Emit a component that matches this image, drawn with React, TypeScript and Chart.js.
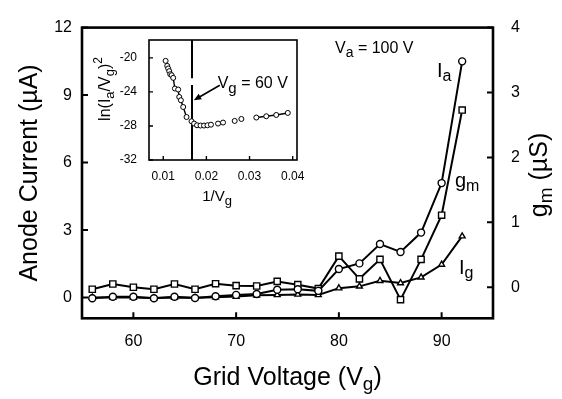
import { useEffect, useRef } from "react";
import { Chart, registerables } from "chart.js";

Chart.register(...registerables);

const FONT = "'Liberation Sans', Arial, Helvetica, sans-serif";

// Main plot data
const GRID_VOLTAGE = [56, 58, 60, 62, 64, 66, 68, 70, 72, 74, 76, 78, 80, 82, 84, 86, 88, 90, 92];
const ANODE_CURRENT = [-0.03, 0.04, 0.04, -0.03, 0.04, -0.02, 0.06, 0.12, 0.16, 0.35, 0.37, 0.3, 1.27, 1.52, 2.38, 2.03, 2.89, 5.09, 10.5];
const TRANSCONDUCTANCE = [-0.03, 0.05, 0.0, -0.03, 0.05, -0.03, 0.055, 0.025, 0.02, 0.09, 0.04, -0.02, 0.48, 0.13, 0.43, -0.19, 0.43, 1.11, 2.73];
const GRID_CURRENT = [0, 0, 0, -0.02, 0, -0.01, 0.02, 0.05, 0.1, 0.12, 0.14, 0.12, 0.42, 0.5, 0.75, 0.65, 0.9, 1.47, 2.73];
const X_TICKS = [60, 70, 80, 90];
const LEFT_TICKS = [0, 3, 6, 9, 12];
const RIGHT_TICKS = [0, 1, 2, 3, 4];

// Inset data
const INV_VG = [0.01055, 0.01092, 0.01115, 0.01139, 0.01162, 0.01194, 0.01231, 0.0127, 0.01346, 0.0137, 0.01409, 0.01462, 0.0154, 0.01656, 0.01716, 0.01783, 0.01864, 0.01945, 0.02025, 0.02106, 0.0227, 0.02386, 0.02656, 0.02811, 0.03157, 0.03388, 0.03619, 0.03887];
const LN_IA_VG2 = [-20.35, -20.94, -21.25, -21.56, -21.92, -22.04, -22.35, -23.6, -23.72, -24.59, -24.98, -25.77, -26.95, -27.45, -27.72, -27.92, -27.95, -27.95, -27.92, -27.85, -27.72, -27.6, -27.41, -27.18, -27.01, -26.86, -26.71, -26.47];
const CONNECTED_SEGMENTS = [0, 1, 2, 3, 4, 5, 6, 7, 8, 9, 10, 11, 24, 25, 26];
const INSET_X_TICKS = [0.01, 0.02, 0.03, 0.04];
const INSET_Y_TICKS = [-32, -28, -24, -20];
const VG_MARK = 60;
const ARROW_FROM = { x: 0.0231, y: -23.21 };
const ARROW_TO = { x: 0.01709, y: -24.98 };
const MARK_GAP = [-22.4, -23.2];

type Part = { t: string; size: number; dy?: number };

function drawRich(ctx: CanvasRenderingContext2D, parts: Part[], x: number, y: number, rotate = 0, align: "left" | "center" = "left") {
  ctx.save();
  ctx.translate(x, y);
  if (rotate) ctx.rotate(rotate);
  let total = 0;
  for (const p of parts) {
    ctx.font = `${p.size}px ${FONT}`;
    total += ctx.measureText(p.t).width;
  }
  let cx = align === "center" ? -total / 2 : 0;
  ctx.textBaseline = "alphabetic";
  ctx.textAlign = "left";
  ctx.fillStyle = "#000";
  for (const p of parts) {
    ctx.font = `${p.size}px ${FONT}`;
    ctx.fillText(p.t, cx, p.dy || 0);
    cx += ctx.measureText(p.t).width;
  }
  ctx.restore();
}

function drawFrameAndTicks(chart: any, lw: number, tickLen: number, tickW: number, axes: { id: string; side: "left" | "right" | "bottom"; values: number[] }[]) {
  const ctx: CanvasRenderingContext2D = chart.ctx;
  const a = chart.chartArea;
  ctx.save();
  ctx.strokeStyle = "#000";
  ctx.lineWidth = lw;
  ctx.strokeRect(a.left, a.top, a.right - a.left, a.bottom - a.top);
  ctx.lineWidth = tickW;
  ctx.beginPath();
  for (const ax of axes) {
    const s = chart.scales[ax.id];
    for (const v of ax.values) {
      const p = s.getPixelForValue(v);
      if (ax.side === "left") {
        ctx.moveTo(a.left, p);
        ctx.lineTo(a.left + tickLen, p);
      } else if (ax.side === "right") {
        ctx.moveTo(a.right, p);
        ctx.lineTo(a.right - tickLen, p);
      } else {
        ctx.moveTo(p, a.bottom);
        ctx.lineTo(p, a.bottom - tickLen);
      }
    }
  }
  ctx.stroke();
  ctx.restore();
}

const tickFont = (size: number) => ({ family: FONT, size });

export default function App() {
  const mainRef = useRef<HTMLCanvasElement>(null);
  const insetRef = useRef<HTMLCanvasElement>(null);

  useEffect(() => {
    document.body.style.margin = "0";
    const pointBase = {
      borderColor: "#000",
      borderWidth: 2,
      pointBackgroundColor: "#fff",
      pointBorderColor: "#000",
      pointBorderWidth: 1.4,
      tension: 0,
      fill: false,
    };

    const mainPlugin = {
      id: "mainDecor",
      afterDraw(chart: any) {
        const ctx: CanvasRenderingContext2D = chart.ctx;
        drawFrameAndTicks(chart, 2.6, 6, 2, [
          { id: "x", side: "bottom", values: X_TICKS },
          { id: "y", side: "left", values: LEFT_TICKS },
          { id: "y2", side: "right", values: RIGHT_TICKS },
        ]);
        const a = chart.chartArea;
        const cx = (a.left + a.right) / 2;
        const cy = (a.top + a.bottom) / 2;
        drawRich(ctx, [{ t: "Grid Voltage (V", size: 25 }, { t: "g", size: 19, dy: 5 }, { t: ")", size: 25 }], cx, 385, 0, "center");
        drawRich(ctx, [{ t: "Anode Current (µA)", size: 25 }], 37, cy, -Math.PI / 2, "center");
        drawRich(ctx, [{ t: "g", size: 25 }, { t: "m", size: 19, dy: 5 }, { t: " (µS)", size: 25 }], 547, cy + 2, -Math.PI / 2, "center");
        drawRich(ctx, [{ t: "V", size: 16 }, { t: "a", size: 14, dy: 4 }, { t: " = 100 V", size: 16 }], 335, 53.3);
        drawRich(ctx, [{ t: "I", size: 20 }, { t: "a", size: 16, dy: 4 }], 437, 77);
        drawRich(ctx, [{ t: "g", size: 20 }, { t: "m", size: 16, dy: 4 }], 455, 187);
        drawRich(ctx, [{ t: "I", size: 20 }, { t: "g", size: 16, dy: 4 }], 459, 274);
      },
    };

    const main = new Chart(mainRef.current!, {
      type: "line",
      data: {
        datasets: [
          {
            ...pointBase,
            label: "Ia",
            yAxisID: "y",
            pointStyle: "circle",
            pointRadius: 3.5,
            data: GRID_VOLTAGE.map((v, i) => ({ x: v, y: ANODE_CURRENT[i] })),
          },
          {
            ...pointBase,
            label: "gm",
            yAxisID: "y2",
            pointStyle: "rect",
            pointRadius: 4.4,
            data: GRID_VOLTAGE.map((v, i) => ({ x: v, y: TRANSCONDUCTANCE[i] })),
          },
          {
            ...pointBase,
            label: "Ig",
            yAxisID: "y",
            pointStyle: "triangle",
            pointRadius: 3.4,
            data: GRID_VOLTAGE.map((v, i) => ({ x: v, y: GRID_CURRENT[i] })),
          },
        ] as any,
      },
      options: {
        animation: false,
        responsive: false,
        maintainAspectRatio: false,
        layout: { padding: { top: 18.5, left: 0, right: 0, bottom: 0 } },
        plugins: { legend: { display: false }, tooltip: { enabled: false } },
        scales: {
          x: {
            type: "linear",
            min: 55,
            max: 95,
            afterBuildTicks: (s: any) => {
              s.ticks = X_TICKS.map((v) => ({ value: v }));
            },
            afterFit: (s: any) => {
              s.height = 80.7;
            },
            grid: { display: false, drawTicks: false },
            border: { display: false },
            ticks: { font: tickFont(16), color: "#000", padding: 14, maxRotation: 0, callback: (v: any) => String(v) },
          },
          y: {
            type: "linear",
            position: "left",
            min: -0.92,
            max: 12,
            afterBuildTicks: (s: any) => {
              s.ticks = LEFT_TICKS.map((v) => ({ value: v }));
            },
            afterFit: (s: any) => {
              s.width = 82;
            },
            grid: { display: false, drawTicks: false },
            border: { display: false },
            ticks: { font: tickFont(16), color: "#000", padding: 10, callback: (v: any) => String(v) },
          },
          y2: {
            type: "linear",
            position: "right",
            min: -0.478,
            max: 4,
            afterBuildTicks: (s: any) => {
              s.ticks = RIGHT_TICKS.map((v) => ({ value: v }));
            },
            afterFit: (s: any) => {
              s.width = 69;
            },
            grid: { display: false, drawTicks: false },
            border: { display: false },
            ticks: { font: tickFont(16), color: "#000", padding: 18, callback: (v: any) => String(v) },
          },
        },
      } as any,
      plugins: [mainPlugin],
    });

    const insetPlugin = {
      id: "insetDecor",
      beforeDatasetsDraw(chart: any) {
        const ctx: CanvasRenderingContext2D = chart.ctx;
        const a = chart.chartArea;
        const sx = chart.scales.x;
        const sy = chart.scales.y;
        ctx.save();
        ctx.fillStyle = "#fff";
        ctx.fillRect(a.left, a.top, a.right - a.left, a.bottom - a.top);
        // vertical marker at 1/Vg = 1/60
        const xm = sx.getPixelForValue(1 / VG_MARK);
        ctx.strokeStyle = "#000";
        ctx.lineWidth = 2;
        ctx.beginPath();
        ctx.moveTo(xm, a.top);
        ctx.lineTo(xm, sy.getPixelForValue(MARK_GAP[0]));
        ctx.moveTo(xm, sy.getPixelForValue(MARK_GAP[1]));
        ctx.lineTo(xm, a.bottom);
        ctx.stroke();
        // arrow
        const x0 = sx.getPixelForValue(ARROW_FROM.x);
        const y0 = sy.getPixelForValue(ARROW_FROM.y);
        const x1 = sx.getPixelForValue(ARROW_TO.x);
        const y1 = sy.getPixelForValue(ARROW_TO.y);
        const ang = Math.atan2(y1 - y0, x1 - x0);
        const hl = 8;
        ctx.lineWidth = 1.6;
        ctx.beginPath();
        ctx.moveTo(x0, y0);
        ctx.lineTo(x1 - Math.cos(ang) * 4, y1 - Math.sin(ang) * 4);
        ctx.stroke();
        ctx.beginPath();
        ctx.moveTo(x1, y1);
        ctx.lineTo(x1 - hl * Math.cos(ang - 0.4), y1 - hl * Math.sin(ang - 0.4));
        ctx.lineTo(x1 - hl * Math.cos(ang + 0.4), y1 - hl * Math.sin(ang + 0.4));
        ctx.closePath();
        ctx.fillStyle = "#000";
        ctx.fill();
        ctx.restore();
      },
      afterDraw(chart: any) {
        const ctx: CanvasRenderingContext2D = chart.ctx;
        drawFrameAndTicks(chart, 1.6, 4, 1.4, [
          { id: "x", side: "bottom", values: INSET_X_TICKS },
          { id: "y", side: "left", values: INSET_Y_TICKS },
        ]);
        const a = chart.chartArea;
        drawRich(ctx, [{ t: "V", size: 16 }, { t: "g", size: 15, dy: 5 }, { t: " = 60 V", size: 16 }], 217.7, 88.3);
        drawRich(ctx, [{ t: "1/V", size: 15 }, { t: "g", size: 13, dy: 4 }], (a.left + a.right) / 2 - 6, 201, 0, "center");
        drawRich(
          ctx,
          [
            { t: "ln(I", size: 16 },
            { t: "a", size: 13, dy: 4 },
            { t: "/V", size: 16 },
            { t: "g", size: 13, dy: 4 },
            { t: ")", size: 16 },
            { t: "2", size: 12, dy: -8 },
          ],
          110,
          89,
          -Math.PI / 2,
          "center"
        );
      },
    };

    const inset = new Chart(insetRef.current!, {
      type: "line",
      data: {
        datasets: [
          {
            label: "ln",
            data: INV_VG.map((v, i) => ({ x: v, y: LN_IA_VG2[i] })),
            borderColor: "#000",
            borderWidth: 1.4,
            pointStyle: "circle",
            pointRadius: 2.5,
            pointBackgroundColor: "#fff",
            pointBorderColor: "#000",
            pointBorderWidth: 1,
            tension: 0,
            segment: {
              borderColor: (c: any) => (CONNECTED_SEGMENTS.includes(c.p0DataIndex) ? "#000" : "rgba(0,0,0,0)"),
            },
          },
        ] as any,
      },
      options: {
        animation: false,
        responsive: false,
        maintainAspectRatio: false,
        layout: { padding: { top: 40, left: 0, right: 265, bottom: 0 } },
        plugins: { legend: { display: false }, tooltip: { enabled: false } },
        scales: {
          x: {
            type: "linear",
            min: 0.0067,
            max: 0.041,
            afterBuildTicks: (s: any) => {
              s.ticks = INSET_X_TICKS.map((v) => ({ value: v }));
            },
            afterFit: (s: any) => {
              s.height = 239;
            },
            grid: { display: false, drawTicks: false },
            border: { display: false },
            ticks: { font: tickFont(12), color: "#000", padding: 9, maxRotation: 0, callback: (v: any) => Number(v).toFixed(2) },
          },
          y: {
            type: "linear",
            position: "left",
            min: -32,
            max: -17.9,
            afterBuildTicks: (s: any) => {
              s.ticks = INSET_Y_TICKS.map((v) => ({ value: v }));
            },
            afterFit: (s: any) => {
              s.width = 149;
            },
            grid: { display: false, drawTicks: false },
            border: { display: false },
            ticks: { font: tickFont(12), color: "#000", padding: 12, callback: (v: any) => String(v) },
          },
        },
      } as any,
      plugins: [insetPlugin],
    });

    return () => {
      main.destroy();
      inset.destroy();
    };
  }, []);

  return (
    <div style={{ position: "fixed", left: 0, top: 0, width: 562, height: 399, background: "#fff" }}>
      <canvas ref={mainRef} width={562} height={399} style={{ position: "absolute", left: 0, top: 0, width: 562, height: 399 }} />
      <canvas ref={insetRef} width={562} height={399} style={{ position: "absolute", left: 0, top: 0, width: 562, height: 399, pointerEvents: "none" }} />
    </div>
  );
}
